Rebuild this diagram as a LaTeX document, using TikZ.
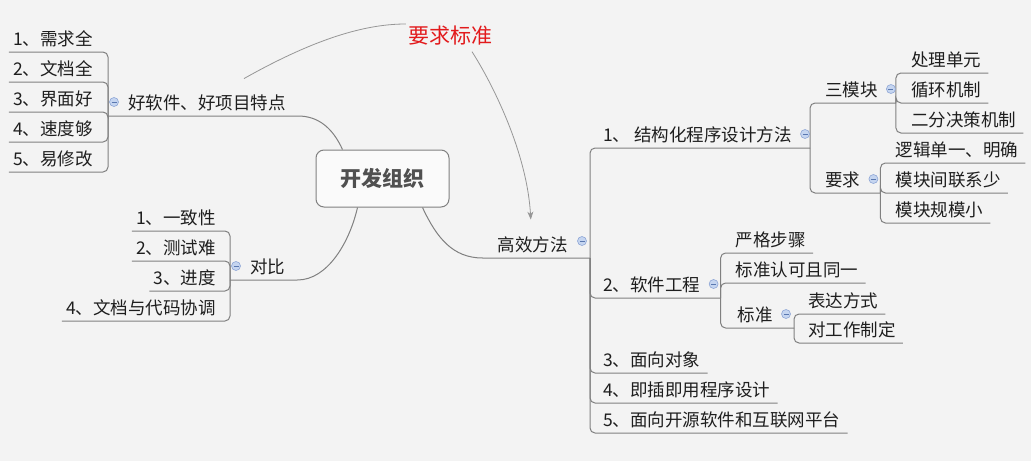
\documentclass[tikz,border=0pt]{standalone}
\usepackage{fontspec}
\newfontfamily\cjk{Noto Sans CJK SC}
\usetikzlibrary{positioning,arrows.meta}
\definecolor{bgclr}{RGB}{243,243,243}
\definecolor{linkclr}{RGB}{128,128,128}
\definecolor{relclr}{RGB}{150,150,150}
\definecolor{txtclr}{RGB}{30,30,30}
\definecolor{rootclr}{RGB}{80,80,80}
\definecolor{reqclr}{RGB}{226,26,28}
\definecolor{foldfill}{RGB}{197,213,240}
\definecolor{folddraw}{RGB}{142,166,214}
\definecolor{foldline}{RGB}{90,120,176}
\tikzset{
     topic/.style={font=\cjk\fontsize{17.5pt}{20pt}\selectfont, text=txtclr,
        inner xsep=0pt, inner ysep=3pt, text height=14pt, text depth=3pt},
     root/.style={draw=linkclr, fill=white!60!bgclr, line width=1pt, rounded corners=8pt,
        minimum width=133pt, minimum height=57pt, text=rootclr,
        font=\cjk\bfseries\fontsize{21pt}{24pt}\selectfont},
     reqlabel/.style={font=\cjk\fontsize{21pt}{24pt}\selectfont, text=reqclr,
        inner sep=2pt, text height=17pt, text depth=4pt},
     link/.style={linkclr, line width=1pt, rounded corners=5pt},
     rel/.style={relclr, line width=0.8pt},
     fold/.style={circle, fill=foldfill, draw=folddraw, line width=0.6pt,
        minimum size=9pt, inner sep=0pt,
        path picture={\draw[foldline, line width=0.8pt]
           ([xshift=-2.5pt]path picture bounding box.center) --
           ([xshift=2.5pt]path picture bounding box.center);}},
    }
\begin{document}
\begin{tikzpicture}[x=1pt, y=-1pt, node distance=30pt, on grid]
            \fill[bgclr] (0,0) rectangle (1031,461);

            \node [root] (root) at (382.5,178.5) {开发组织};

            \node [topic, anchor=south east] (gx) at (568,258) {高效方法};
            \coordinate (j0) at ([xshift=22pt]gx.south east);
            \node [topic, above right=110pt and 13pt of j0, anchor=south west] (s1) {1、 结构化程序设计方法};
            \node [topic, below right=40pt and 13pt of j0, anchor=south west]  (s2) {2、软件工程};
            \node [topic, below=75pt of s2.south west, anchor=south west] (s3) {3、面向对象};
            \node [topic, below=of s3.south west, anchor=south west]      (s4) {4、即插即用程序设计};
            \node [topic, below=of s4.south west, anchor=south west]      (s5) {5、面向开源软件和互联网平台};

            \coordinate (j1) at ([xshift=18pt]s1.south east);
            \node [topic, above right=45pt and 15pt of j1, anchor=south west] (smk) {三模块};
            \node [topic, below=90pt of smk.south west, anchor=south west]   (yq)  {要求};

            \coordinate (j11) at ([xshift=18pt]smk.south east);
            \node [topic, above right=30pt and 15pt of j11, anchor=south west] (clyd) {处理单元};
            \node [topic, below=of clyd.south west, anchor=south west]         (xhjz) {循环机制};
            \node [topic, below=of xhjz.south west, anchor=south west]         (efjc) {二分决策机制};

            \coordinate (j12) at ([xshift=20pt]yq.south east);
            \node [topic, above right=30pt and 15pt of j12, anchor=south west] (ljdy) {逻辑单一、明确};
            \node [topic, below=of ljdy.south west, anchor=south west]         (mklx) {模块间联系少};
            \node [topic, below=of mklx.south west, anchor=south west]         (mkgm) {模块规模小};

            \coordinate (j2) at ([xshift=20pt]s2.south east);
            \node [topic, above right=45pt and 15pt of j2, anchor=south west] (yg)   {严格步骤};
            \node [topic, below=of yg.south west, anchor=south west]          (bzrk) {标准认可且同一};
            \node [topic, below right=30pt and 17pt of j2, anchor=south west] (bz)   {标准};

            \coordinate (j22) at ([xshift=21pt]bz.south east);
            \node [topic, above right=14pt and 14pt of j22, anchor=south west] (bdfs) {表达方式};
            \node [topic, below right=15pt and 14pt of j22, anchor=south west] (dgz)  {对工作制定};

            \node [topic, anchor=south west] (hao) at (128,116) {好软件、好项目特点};
            \coordinate (jL1) at ([xshift=-20pt]hao.south west);
            \node [topic, above left=64pt and 15pt of jL1, anchor=south east] (xq) {1、需求全};
            \node [topic, below=of xq.south east, anchor=south east]  (wd)  {2、文档全};
            \node [topic, below=of wd.south east, anchor=south east]  (jm)  {3、界面好};
            \node [topic, below=of jm.south east, anchor=south east]  (sd)  {4、速度够};
            \node [topic, below=of sd.south east, anchor=south east]  (yxg) {5、易修改};

            \node [topic, anchor=south west] (db) at (250,280) {对比};
            \coordinate (jL2) at ([xshift=-20pt]db.south west);
            \node [topic, above left=49pt and 14pt of jL2, anchor=south east] (yzx) {1、一致性};
            \node [topic, below=of yzx.south east, anchor=south east] (csn)  {2、测试难};
            \node [topic, below=of csn.south east, anchor=south east] (jd)   {3、进度};
            \node [topic, below=of jd.south east, anchor=south east]  (wdxt) {4、文档与代码协调};

            \node [reqlabel] (req) at (450,37) {要求标准};

            \draw[link] ([xshift=-40pt]root.north) .. controls +(-10,-22) and +(25,0) .. ([xshift=7pt]hao.south east) -- (jL1);
            \draw[link] ([xshift=-25pt]root.south) .. controls +(-8,35) and +(35,0) .. ([xshift=7pt]db.south east) -- (jL2);
            \draw[link] ([xshift=40pt]root.south) .. controls +(14,30) and +(-35,0) .. ([xshift=-10pt]gx.south west) -- (j0);

            \draw[link] (j0) |- (j1);
            \draw[link] (j0) |- (j2);
            \foreach \c in {s3,s4,s5}
                \draw[link] (j0) |- ([xshift=7pt]\c.south east);
            \draw[link] (j1) |- (j11);
            \draw[link] (j1) |- (j12);
            \foreach \c in {clyd,xhjz,efjc}
                \draw[link] (j11) |- ([xshift=7pt]\c.south east);
            \foreach \c in {ljdy,mklx,mkgm}
                \draw[link] (j12) |- ([xshift=7pt]\c.south east);
            \foreach \c in {yg,bzrk}
                \draw[link] (j2) |- ([xshift=7pt]\c.south east);
            \draw[link] (j2) |- (j22);
            \foreach \c in {bdfs,dgz}
                \draw[link] (j22) |- ([xshift=7pt]\c.south east);
            \foreach \c in {xq,wd,jm,sd,yxg}
                \draw[link] (jL1) |- ([xshift=-4pt]\c.south west);
            \foreach \c in {yzx,csn,jd,wdxt}
                \draw[link] (jL2) |- ([xshift=-4pt]\c.south west);

            \draw[rel] ([xshift=37pt,yshift=14pt]hao.north) .. controls +(78,-44) and +(-35,0) .. ([yshift=13pt]req.west);
            \draw[rel, -{Stealth[length=8pt,width=6pt]}] ([xshift=22pt,yshift=-2pt]req.south)
                .. controls +(18,28) and +(-4,-70) .. ([xshift=-2pt,yshift=15pt]gx.north);

            \node [fold] (f-gx) at ([xshift=14pt,yshift=17pt]gx.south east) {};
            \foreach \p in {s1,smk,yq,s2,bz}
                \node [fold] (f-\p) at ([xshift=13pt,yshift=14pt]\p.south east) {};
            \foreach \p in {hao,db}
                \node [fold] (f-\p) at ([xshift=-14pt,yshift=14pt]\p.south west) {};
      \end{tikzpicture}
\end{document}
